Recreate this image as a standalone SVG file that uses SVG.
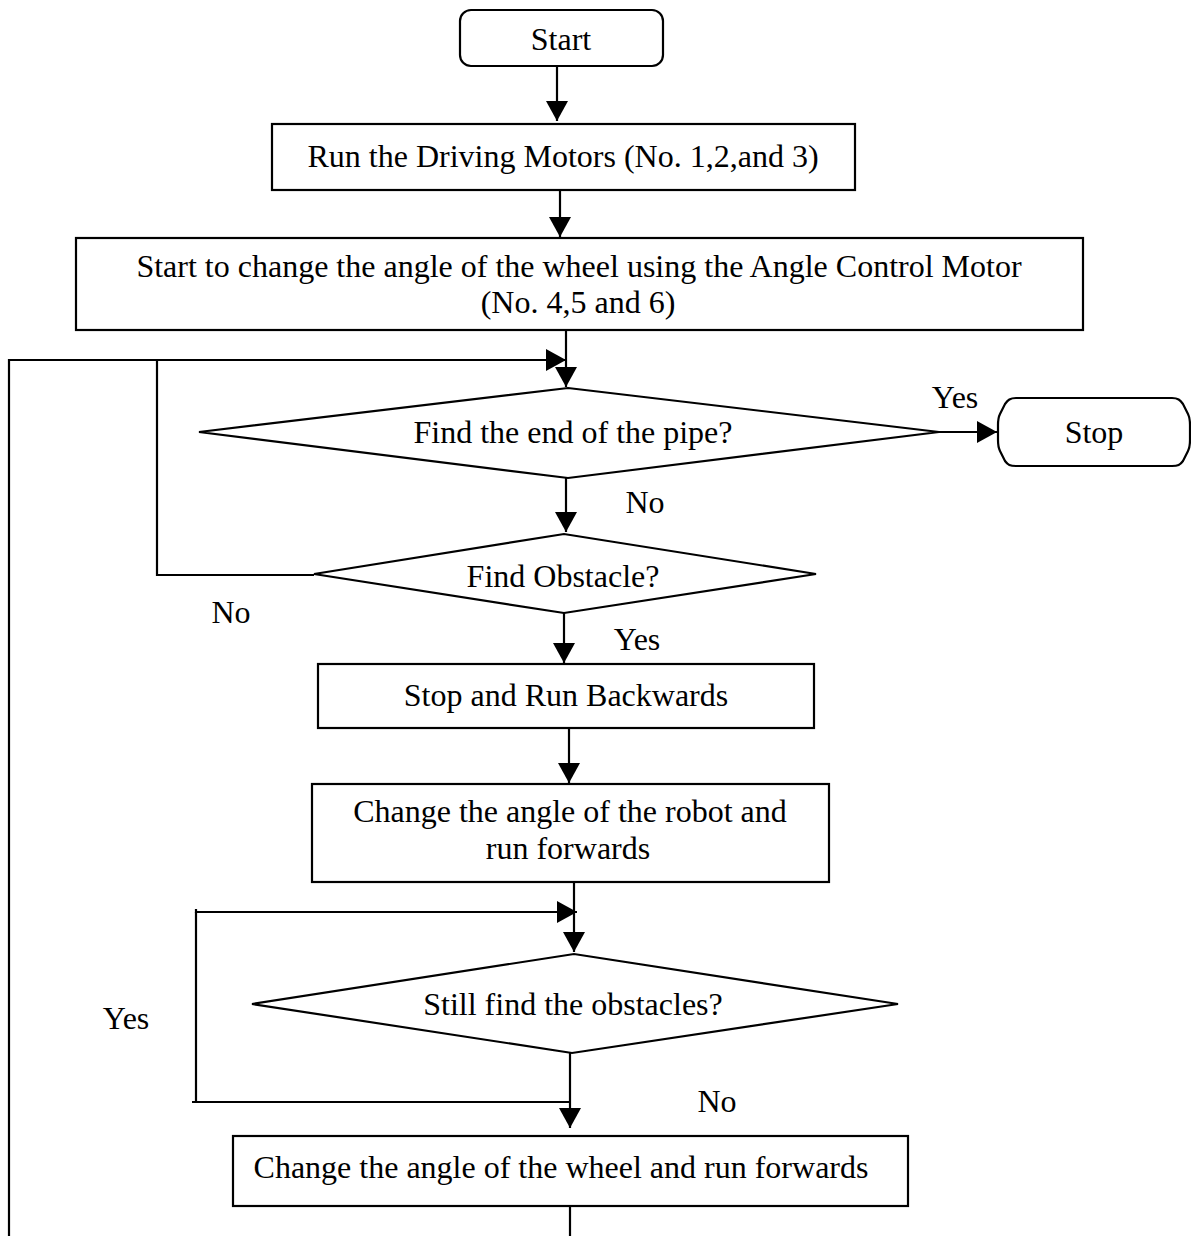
<svg xmlns="http://www.w3.org/2000/svg" width="1191" height="1236" viewBox="0 0 1191 1236">
<style>
  .shape { fill: #ffffff; stroke: #000000; stroke-width: 2.2; }
  .line { fill: none; stroke: #000000; stroke-width: 2.2; }
  .arrow { fill: none; stroke: #000000; stroke-width: 2.2; marker-end: url(#head); }
  text { font-family: "Liberation Serif", "Times New Roman", serif; font-size: 32px; fill: #000000; text-anchor: middle; }
</style>
<defs>
  <marker id="head" markerUnits="userSpaceOnUse" markerWidth="22" markerHeight="24" refX="20" refY="11" orient="auto">
    <path d="M0,0 L20,11 L0,22 Z" fill="#000000"/>
  </marker>
</defs>
<rect width="1191" height="1236" fill="#ffffff"/>

<g id="connectors">
  <line class="arrow" x1="557" y1="66" x2="557" y2="121"/>
  <line class="arrow" x1="560" y1="190" x2="560" y2="237"/>
  <line class="arrow" x1="566" y1="330" x2="566" y2="387"/>
  <polyline class="arrow" points="9,1236 9,360 566,360"/>
  <polyline class="line" points="314,575 157,575 157,360"/>
  <line class="arrow" x1="566" y1="478" x2="566" y2="532"/>
  <line class="arrow" x1="939" y1="432" x2="997" y2="432"/>
  <line class="arrow" x1="564" y1="613" x2="564" y2="663"/>
  <line class="arrow" x1="569" y1="728" x2="569" y2="783"/>
  <line class="arrow" x1="574" y1="882" x2="574" y2="952"/>
  <polyline class="arrow" points="196,909 196,912 577,912"/>
  <polyline class="line" points="196,912 196,1102 192,1102 570,1102"/>
  <line class="arrow" x1="570" y1="1053" x2="570" y2="1128"/>
  <line class="line" x1="570" y1="1203" x2="570" y2="1236"/>
</g>

<g id="start">
  <rect class="shape" x="460" y="10" width="203" height="56" rx="11" ry="11"/>
  <text x="561" y="50">Start</text>
</g>

<g id="run-driving-motors">
  <rect class="shape" x="272" y="124" width="583" height="66"/>
  <text x="563" y="167">Run the Driving Motors (No. 1,2,and 3)</text>
</g>

<g id="start-change-angle">
  <rect class="shape" x="76" y="238" width="1007" height="92"/>
  <text x="579" y="277">Start to change the angle of the wheel using the Angle Control Motor</text>
  <text x="578" y="313">(No. 4,5 and 6)</text>
</g>

<g id="find-end-of-pipe">
  <polygon class="shape" points="199,432 568,388 939,432 568,478"/>
  <text x="573" y="443">Find the end of the pipe?</text>
</g>

<g id="stop">
  <path class="shape" d="M1016,398 L1172,398 C1178,398 1180,400 1183,404 L1188,414 C1190,418 1190,420 1190,425 L1190,440 C1190,445 1190,447 1188,451 L1183,461 C1180,465 1178,466 1172,466 L1016,466 C1010,466 1008,465 1005,461 L1000,451 C998,447 998,445 998,440 L998,425 C998,420 998,418 1000,414 L1005,404 C1008,400 1010,398 1016,398 Z"/>
  <text x="1094" y="443">Stop</text>
</g>

<g id="find-obstacle">
  <polygon class="shape" points="314,574 564,534 816,574 564,613"/>
  <text x="563" y="587">Find Obstacle?</text>
</g>

<g id="stop-run-backwards">
  <rect class="shape" x="318" y="664" width="496" height="64"/>
  <text x="566" y="706">Stop and Run Backwards</text>
</g>

<g id="change-robot-angle">
  <rect class="shape" x="312" y="784" width="517" height="98"/>
  <text x="570" y="822">Change the angle of the robot and</text>
  <text x="568" y="859">run forwards</text>
</g>

<g id="still-find-obstacles">
  <polygon class="shape" points="252,1004 574,954 898,1004 572,1053"/>
  <text x="573" y="1015">Still find the obstacles?</text>
</g>

<g id="change-wheel-angle">
  <rect class="shape" x="233" y="1136" width="675" height="70"/>
  <text x="561" y="1178">Change the angle of the wheel and run forwards</text>
</g>

<g id="labels">
  <text x="955" y="408">Yes</text>
  <text x="645" y="513">No</text>
  <text x="231" y="623">No</text>
  <text x="637" y="650">Yes</text>
  <text x="126" y="1029">Yes</text>
  <text x="717" y="1112">No</text>
</g>
</svg>
